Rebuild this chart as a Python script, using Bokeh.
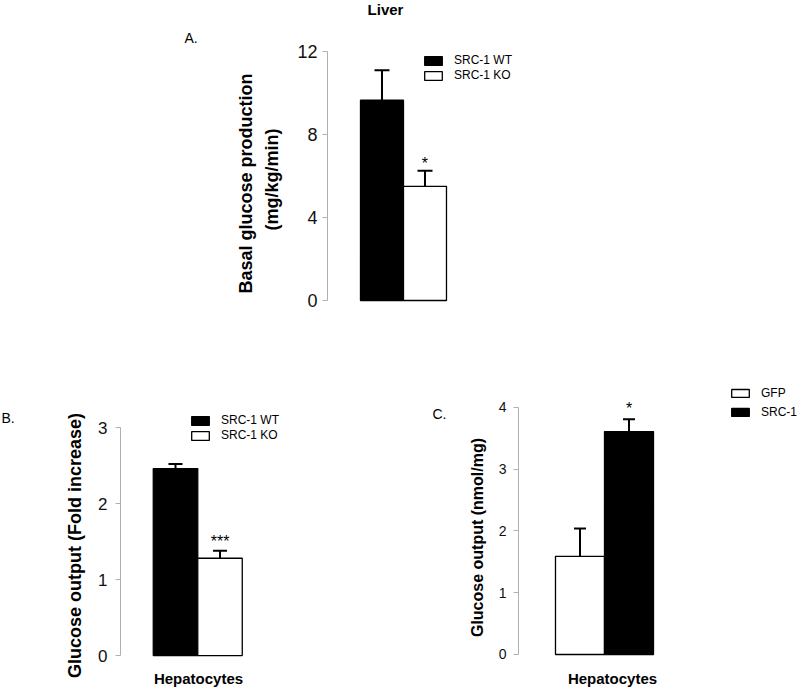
import math
from bokeh.plotting import figure
from bokeh.models import (Range1d, Whisker, ColumnDataSource, Legend, LegendItem,
                          Label, TeeHead, FixedTicker, LinearAxis)
from bokeh.layouts import column, row
from bokeh.embed import file_html
from bokeh.resources import INLINE
from bokeh.core.properties import value

FONT = "Liberation Sans"

# ---------------- data ----------------
# Panel A (Liver)
a_groups = ["SRC-1 WT", "SRC-1 KO"]
a_means = [9.65, 5.5]
a_errs = [1.45, 0.75]
a_colors = ["black", "white"]
a_stars = ["", "*"]
a_ticks = [0, 4, 8, 12]

# Panel B (Hepatocytes, fold increase)
b_groups = ["SRC-1 WT", "SRC-1 KO"]
b_means = [2.46, 1.28]
b_errs = [0.06, 0.10]
b_colors = ["black", "white"]
b_stars = ["", "***"]
b_ticks = [0, 1, 2, 3]

# Panel C (Hepatocytes, nmol/mg)
c_groups = ["GFP", "SRC-1"]
c_means = [1.59, 3.61]
c_errs = [0.45, 0.20]
c_colors = ["white", "black"]
c_stars = ["", "*"]
c_ticks = [0, 1, 2, 3, 4]


def panel(groups, means, errs, colors, stars, ticks, *, width, height,
          x_range, y_range, axis_at, bounds, tick_size, label_standoff,
          legend_loc, legend_spacing, glyph_h, cap, star_dy):
    p = figure(width=width, height=height, output_backend="svg",
               toolbar_location=None, x_range=Range1d(*x_range),
               y_range=Range1d(*y_range),
               x_axis_location=None, y_axis_location=None, min_border=0)
    p.outline_line_color = None
    p.grid.visible = False
    p.background_fill_color = "white"
    p.border_fill_color = "white"

    xs = list(range(len(groups)))
    src = ColumnDataSource(dict(
        x=xs, top=means, upper=[m + e for m, e in zip(means, errs)],
        color=colors, star=stars, group=groups))
    bars = p.vbar(x="x", top="top", width=1.0, bottom=0, source=src,
                  fill_color="color", line_color="black", line_width=1.3)
    wh = Whisker(base="x", upper="upper", lower="top", source=src,
                 line_color="black", line_width=2,
                 upper_head=TeeHead(size=cap, line_color="black", line_width=2),
                 lower_head=None, level="glyph")
    p.add_layout(wh)
    p.text(x="x", y="upper", text="star", source=src, text_align="center",
           text_baseline="alphabetic", y_offset=star_dy,
           text_font=value(FONT), text_font_size="16px", text_color="black")

    ax = LinearAxis(fixed_location=axis_at, ticker=FixedTicker(ticks=ticks),
                    bounds=bounds)
    ax.axis_line_color = "#b0b0b0"
    ax.major_tick_line_color = "#b0b0b0"
    ax.major_tick_out = 5
    ax.major_tick_in = 0
    ax.minor_tick_line_color = None
    ax.major_label_text_font = FONT
    ax.major_label_text_font_size = tick_size
    ax.major_label_text_color = "#111111"
    ax.major_label_standoff = label_standoff
    p.add_layout(ax, "left")

    items = [LegendItem(label=g, renderers=[bars], index=i)
             for i, g in enumerate(groups)]
    leg = Legend(items=items, location=legend_loc, padding=0, margin=0,
                 spacing=legend_spacing, glyph_width=22, glyph_height=glyph_h,
                 label_height=glyph_h, label_standoff=10,
                 label_text_font=FONT, label_text_font_size="12px",
                 label_text_color="black", border_line_color=None,
                 background_fill_alpha=0)
    p.add_layout(leg)
    return p


def label(p, text, x, y, size, bold=False, align="left",
          baseline="alphabetic", angle=0.0):
    p.add_layout(Label(x=x, y=y, x_units="screen", y_units="screen",
                       text=text, text_font=FONT,
                       text_font_style=("bold" if bold else "normal"),
                       text_font_size=size, text_align=align,
                       text_baseline=baseline, text_color="black",
                       angle=angle))


# Panel A: canvas 800x345 at page (0,0); axis at x=327, 0 at y=300, 12 at y=51
pa = panel(a_groups, a_means, a_errs, a_colors, a_stars, a_ticks,
           width=800, height=345,
           x_range=(-8.872, 9.733), y_range=(-2.169, 14.458),
           axis_at=-1.267, bounds=(0, 12), tick_size="18px",
           label_standoff=5, legend_loc=(422, 263), legend_spacing=1,
           glyph_h=11, cap=15, star_dy=-7)
label(pa, "Liver", 385, 336, "15px", bold=True, align="center")
label(pa, "A.", 184, 308, "14px")
label(pa, "Basal glucose production", 245, 162, "18px", bold=True,
      align="center", angle=math.pi / 2)
label(pa, "(mg/kg/min)", 271, 166, "18px", bold=True,
      align="center", angle=math.pi / 2)

# Panel B: canvas 400x344 at page (0,345); axis x=120, 0 at y=655, 3 at y=427
pb = panel(b_groups, b_means, b_errs, b_colors, b_stars, b_ticks,
           width=400, height=344,
           x_range=(-3.933, 5.056), y_range=(-0.447, 4.079),
           axis_at=-1.236, bounds=(0, 3), tick_size="17px",
           label_standoff=8, legend_loc=(189, 247), legend_spacing=1,
           glyph_h=11, cap=14, star_dy=-9)
label(pb, "B.", 1, 272, "14px")
label(pb, "Glucose output (Fold increase)", 74, 144, "18px", bold=True,
      align="center", angle=math.pi / 2)
label(pb, "Hepatocytes", 198, 11, "15px", bold=True, align="center")

# Panel C: canvas 400x344 at page (400,345); axis x=518, 0 at y=654, 4 at y=407
pc = panel(c_groups, c_means, c_errs, c_colors, c_stars, c_ticks,
           width=400, height=344,
           x_range=(-3.663, 4.5), y_range=(-0.567, 5.004),
           axis_at=-1.255, bounds=(0, 4), tick_size="14px",
           label_standoff=7, legend_loc=(329, 270), legend_spacing=5,
           glyph_h=10, cap=12, star_dy=-11)
label(pc, "C.", 32, 276, "14px")
label(pc, "Glucose output (nmol/mg)", 77, 152, "16px", bold=True,
      align="center", angle=math.pi / 2)
label(pc, "Hepatocytes", 212, 11, "15px", bold=True, align="center")

layout = column(pa, row(pb, pc, spacing=0), spacing=0)

open("out.html", "w").write(file_html(layout, INLINE))
